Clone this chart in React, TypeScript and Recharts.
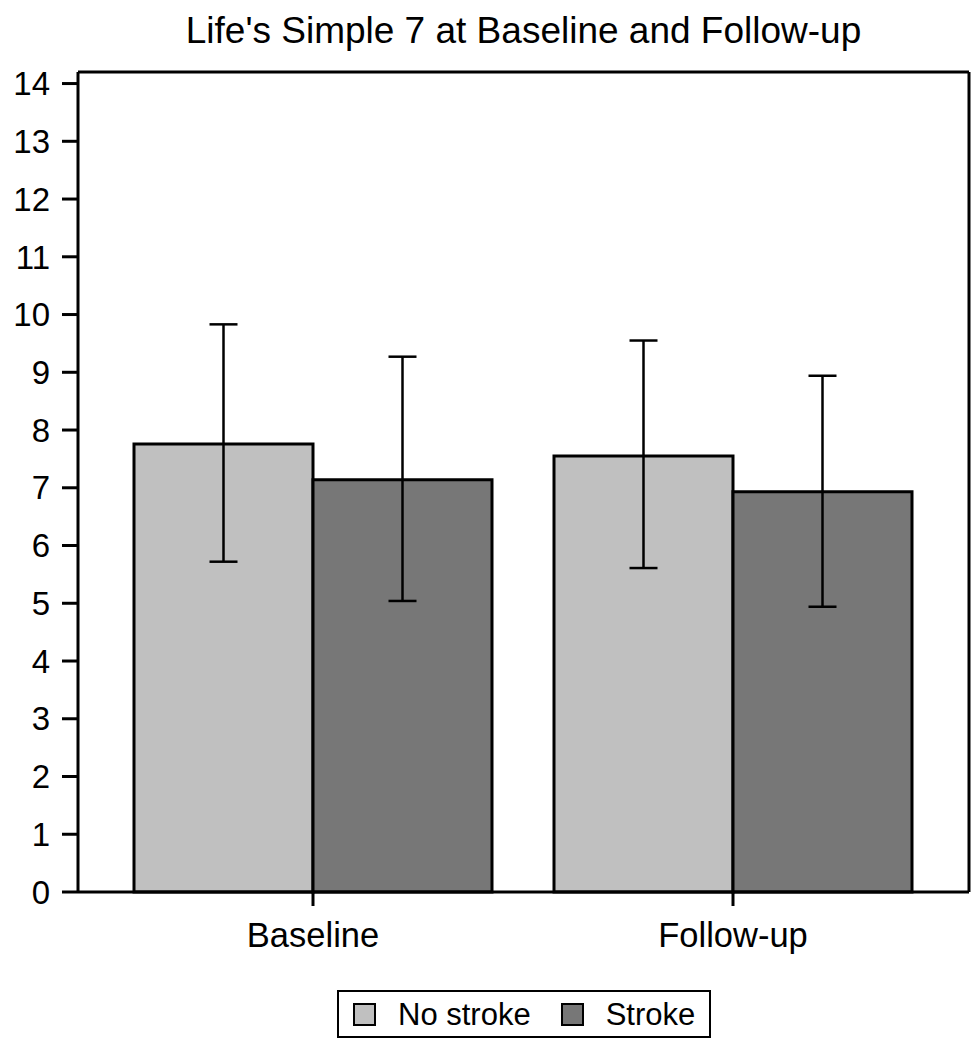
import React from "react";
import { BarChart, Bar, XAxis, YAxis, ErrorBar, Legend, Rectangle } from "recharts";

const categories = ["Baseline", "Follow-up"];
const noStroke = [7.76, 7.55];
const noStrokeLow = [5.72, 5.61];
const noStrokeHigh = [9.83, 9.55];
const stroke = [7.14, 6.93];
const strokeLow = [5.04, 4.94];
const strokeHigh = [9.27, 8.94];
const yTicks = [0, 1, 2, 3, 4, 5, 6, 7, 8, 9, 10, 11, 12, 13, 14];

const data = categories.map((name, i) => ({
  name,
  noStroke: noStroke[i],
  noStrokeErr: [noStroke[i] - noStrokeLow[i], noStrokeHigh[i] - noStroke[i]],
  stroke: stroke[i],
  strokeErr: [stroke[i] - strokeLow[i], strokeHigh[i] - stroke[i]],
}));

const FONT = "'Liberation Sans', Arial, sans-serif";
const LIGHT = "#c0c0c0";
const DARK = "#777777";

const legendItems = [
  { label: "No stroke", color: LIGHT },
  { label: "Stroke", color: DARK },
];

const LegendBox = () => (
  <div
    style={{
      display: "inline-flex",
      alignItems: "center",
      border: "2px solid #000",
      height: 44,
      padding: "0 14px 0 14px",
      fontFamily: FONT,
      fontSize: 31,
      color: "#000",
      background: "#fff",
      boxSizing: "content-box",
    }}
  >
    {legendItems.map((it, i) => (
      <div key={it.label} style={{ display: "flex", alignItems: "center", marginLeft: i === 0 ? 0 : 30 }}>
        <div
          style={{
            width: 19,
            height: 19,
            border: "2px solid #000",
            background: it.color,
            marginRight: 22,
          }}
        />
        <span style={{ lineHeight: 1 }}>{it.label}</span>
      </div>
    ))}
  </div>
);

const OutlinedBar = (props: any) => (
  <Rectangle
    x={props.x}
    y={props.y}
    width={props.width}
    height={props.height}
    fill={props.fill}
    stroke="#000"
    strokeWidth={3}
  />
);

export default function App() {
  return (
    <div style={{ position: "absolute", left: 0, top: 0, width: 980, height: 1050, background: "#fff" }}>
      <div
        style={{
          position: "absolute",
          left: 78,
          width: 891,
          top: 12,
          textAlign: "center",
          fontFamily: FONT,
          fontSize: 37,
          lineHeight: 1,
          color: "#000",
        }}
      >
        Life's Simple 7 at Baseline and Follow-up
      </div>
      <BarChart
        width={980}
        height={1050}
        data={data}
        margin={{ top: 71, right: 10, left: 0, bottom: 12 }}
        barCategoryGap={31}
        barGap={0}
      >
        <XAxis
          dataKey="name"
          height={98}
          padding={{ left: 25, right: 26 }}
          tickSize={14}
          tickMargin={17}
          axisLine={{ stroke: "#000", strokeWidth: 3 }}
          tickLine={{ stroke: "#000", strokeWidth: 3 }}
          tick={{ fill: "#000", fontSize: 34.5, fontFamily: FONT }}
        />
        <XAxis
          xAxisId="top"
          dataKey="name"
          orientation="top"
          height={1}
          tick={false}
          tickLine={false}
          axisLine={{ stroke: "#000", strokeWidth: 3 }}
        />
        <YAxis
          width={78}
          domain={[0, 14.2]}
          ticks={yTicks}
          interval={0}
          tickSize={16}
          tickMargin={12}
          axisLine={{ stroke: "#000", strokeWidth: 3 }}
          tickLine={{ stroke: "#000", strokeWidth: 3 }}
          tick={{ fill: "#000", fontSize: 33, fontFamily: FONT }}
        />
        <YAxis
          yAxisId="right"
          orientation="right"
          width={1}
          domain={[0, 14.2]}
          tick={false}
          tickLine={false}
          axisLine={{ stroke: "#000", strokeWidth: 3 }}
        />
        <Legend
          verticalAlign="bottom"
          content={() => <LegendBox />}
          wrapperStyle={{ left: 337, width: "auto", bottom: 12 }}
        />
        <Bar dataKey="noStroke" fill={LIGHT} shape={OutlinedBar} isAnimationActive={false}>
          <ErrorBar dataKey="noStrokeErr" width={14} stroke="#000" strokeWidth={2.5} direction="y" isAnimationActive={false} />
        </Bar>
        <Bar dataKey="stroke" fill={DARK} shape={OutlinedBar} isAnimationActive={false}>
          <ErrorBar dataKey="strokeErr" width={14} stroke="#000" strokeWidth={2.5} direction="y" isAnimationActive={false} />
        </Bar>
      </BarChart>
    </div>
  );
}
